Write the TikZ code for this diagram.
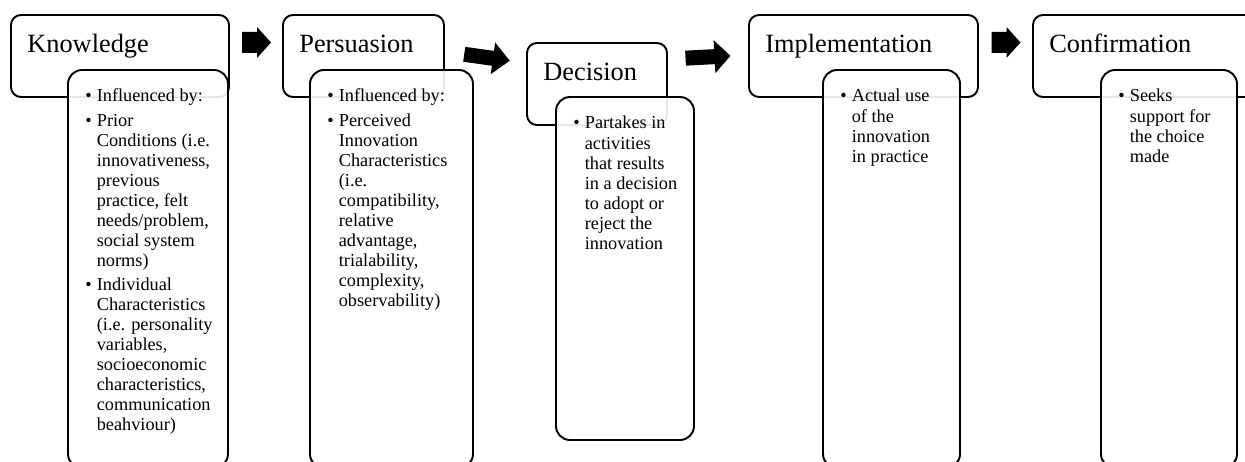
\documentclass[tikz,border=0pt]{standalone}
\usepackage{fontspec}
\setmainfont{Liberation Serif}
\usepackage{array}

\begin{document}
\begin{tikzpicture}[
    stage/.style={draw, line width=1.1pt, rounded corners=0.2cm, inner sep=0pt, outer sep=0pt,
      anchor=north west, minimum height=1.64cm},
    detail/.style={draw, line width=1.1pt, rounded corners=0.28cm, fill=white, fill opacity=0.9,
      inner sep=0pt, outer sep=0pt, anchor=north west},
    title/.style={anchor=base west, inner sep=0pt, font=\fontsize{15}{18}\selectfont,
      xshift=0.32cm, yshift=-0.76cm},
    points/.style={anchor=base west, inner sep=0pt, font=\fontsize{10.4}{11.4}\selectfont,
      xshift=0.34cm, yshift=-0.64cm},
    flow/.style={fill=black},
  ]
    \useasboundingbox (0,0) rectangle (24.9,-9.24);
    \clip (0,0) rectangle (24.9,-9.24);

    % stage headers
    \node[stage, minimum width=4.36cm] (know) at (0.22,-0.30) {};
    \node[stage, minimum width=3.22cm] (pers) at (5.66,-0.30) {};
    \node[stage, minimum width=2.80cm] (deci) at (10.54,-0.86) {};
    \node[stage, minimum width=4.58cm] (impl) at (14.98,-0.30) {};
    \node[stage, minimum width=4.80cm] (conf) at (20.66,-0.30) {};

    \node[title] (knowname) at (know.north west) {Knowledge};
    \node[title] (persname) at (pers.north west) {Persuasion};
    \node[title] (deciname) at (deci.north west) {Decision};
    \node[title] (implname) at (impl.north west) {Implementation};
    \node[title] (confname) at (conf.north west) {Confirmation};

    % arrows between stages
    \fill[flow, shift={(5.13,-0.85)}] (-0.29,0.21) -- (0.01,0.21) -- (0.01,0.31) -- (0.29,0)
      -- (0.01,-0.31) -- (0.01,-0.21) -- (-0.29,-0.21) -- cycle;
    \fill[flow, shift={(9.74,-1.15)}, rotate=-8] (-0.46,0.15) -- (0.12,0.15) -- (0.12,0.32) -- (0.46,0)
      -- (0.12,-0.32) -- (0.12,-0.15) -- (-0.46,-0.15) -- cycle;
    \fill[flow, shift={(14.16,-1.14)}, rotate=3] (-0.45,0.15) -- (0.13,0.15) -- (0.13,0.33) -- (0.45,0)
      -- (0.13,-0.33) -- (0.13,-0.15) -- (-0.45,-0.15) -- cycle;
    \fill[flow, shift={(20.12,-0.85)}] (-0.29,0.21) -- (0.01,0.21) -- (0.01,0.31) -- (0.29,0)
      -- (0.01,-0.31) -- (0.01,-0.21) -- (-0.29,-0.21) -- cycle;

    % detail boxes
    \node[detail, minimum width=3.20cm, minimum height=7.96cm] (knowbox) at (1.36,-1.40) {};
    \node[detail, minimum width=3.26cm, minimum height=7.96cm] (persbox) at (6.20,-1.40) {};
    \node[detail, minimum width=2.76cm, minimum height=6.86cm] (decibox) at (11.12,-1.94) {};
    \node[detail, minimum width=2.74cm, minimum height=7.96cm] (implbox) at (16.46,-1.40) {};
    \node[detail, minimum width=2.72cm, minimum height=7.96cm] (confbox) at (22.02,-1.40) {};

    \node[points] (knowtext) at (knowbox.north west) {%
      \begin{tabular}[t]{@{}p{0.23cm}@{}l@{}}
        \textbullet & Influenced by:\\[2.3pt]
        \textbullet & Prior\\
        & Conditions (i.e.\\
        & innovativeness,\\
        & previous\\
        & practice, felt\\
        & needs/problem,\\
        & social system\\
        & norms)\\[2.3pt]
        \textbullet & Individual\\
        & Characteristics\\
        & (i.e. personality\\
        & variables,\\
        & socioeconomic\\
        & characteristics,\\
        & communication\\
        & beahviour)
      \end{tabular}};
    \node[points] (perstext) at (persbox.north west) {%
      \begin{tabular}[t]{@{}p{0.23cm}@{}l@{}}
        \textbullet & Influenced by:\\[2.3pt]
        \textbullet & Perceived\\
        & Innovation\\
        & Characteristics\\
        & (i.e.\\
        & compatibility,\\
        & relative\\
        & advantage,\\
        & trialability,\\
        & complexity,\\
        & observability)
      \end{tabular}};
    \node[points] (decitext) at (decibox.north west) {%
      \begin{tabular}[t]{@{}p{0.23cm}@{}l@{}}
        \textbullet & Partakes in\\
        & activities\\
        & that results\\
        & in a decision\\
        & to adopt or\\
        & reject the\\
        & innovation
      \end{tabular}};
    \node[points] (impltext) at (implbox.north west) {%
      \begin{tabular}[t]{@{}p{0.23cm}@{}l@{}}
        \textbullet & Actual use\\
        & of the\\
        & innovation\\
        & in practice
      \end{tabular}};
    \node[points] (conftext) at (confbox.north west) {%
      \begin{tabular}[t]{@{}p{0.23cm}@{}l@{}}
        \textbullet & Seeks\\
        & support for\\
        & the choice\\
        & made
      \end{tabular}};
  \end{tikzpicture}
\end{document}
